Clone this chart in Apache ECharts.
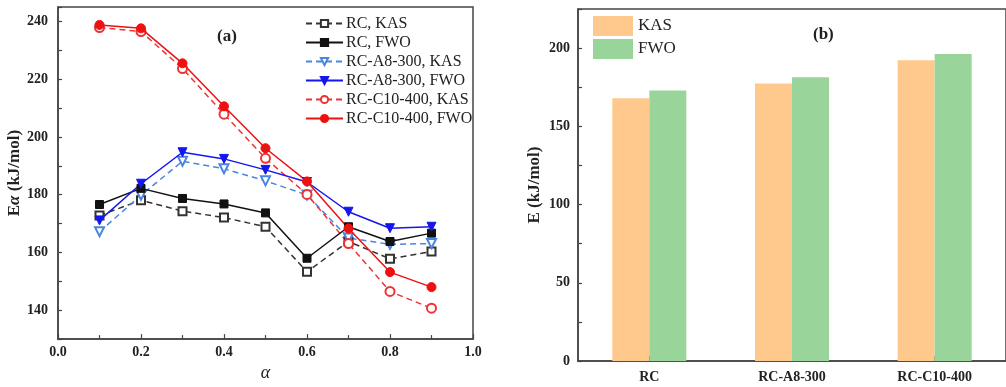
<!DOCTYPE html>
<html>
<head>
<meta charset="utf-8">
<script src="https://cdn.jsdelivr.net/npm/echarts@6/dist/echarts.min.js"></script>
<style>html,body{margin:0;padding:0;background:#fff}#c{width:1006px;height:387px}</style>
</head>
<body>
<div id="c"></div>
<script>
const alphas = [0.1, 0.2, 0.3, 0.4, 0.5, 0.6, 0.7, 0.8, 0.9];
const rcKAS = [172.8, 178.1, 174.3, 172.1, 168.9, 153.3, 163.8, 157.8, 160.3];
const rcFWO = [176.6, 182.2, 178.7, 176.8, 173.7, 158.0, 168.9, 163.8, 166.7];
const a8KAS = [167.2, 179.8, 191.6, 189.0, 184.8, 179.9, 165.0, 162.8, 163.1];
const a8FWO = [171.1, 183.8, 194.7, 192.4, 188.6, 184.4, 174.1, 168.4, 168.9];
const c10KAS = [237.9, 236.5, 223.7, 207.9, 192.6, 180.1, 163.1, 146.5, 140.7];
const c10FWO = [238.8, 237.6, 225.5, 210.6, 196.1, 184.6, 168.3, 153.2, 148.0];
const samples = ['RC', 'RC-A8-300', 'RC-C10-400'];
const barKAS = [167.9, 177.3, 192.3];
const barFWO = [172.9, 181.3, 196.3];

const FONT = '"Liberation Serif","Times New Roman",serif';
const pts = arr => alphas.map((a, i) => [a, arr[i]]);

function lineSeries(name, data, color, dashed, symbol, rotate, size) {
  return {
    name: name, type: 'line', xAxisIndex: 0, yAxisIndex: 0,
    data: pts(data),
    symbol: symbol, symbolSize: size, symbolRotate: rotate || 0,
    showAllSymbol: true,
    lineStyle: { color: color, width: 1.5, type: dashed ? [6, 4] : 'solid' },
    itemStyle: { color: color, borderColor: color, borderWidth: 1 },
    emphasis: { disabled: true },
    z: dashed ? 2 : 3
  };
}

const chart = echarts.init(document.getElementById('c'), null, { renderer: 'canvas' });
chart.setOption({
  animation: false,
  backgroundColor: '#fff',
  textStyle: { fontFamily: FONT },
  grid: [
    { left: 58, top: 7, right: 533, bottom: 46, show: true, borderColor: '#444', borderWidth: 1.5, backgroundColor: 'transparent' },
    { left: 578, top: 9, width: 437, bottom: 26, show: true, borderColor: '#444', borderWidth: 1.5, backgroundColor: 'transparent' }
  ],
  legend: [
    {
      left: 305, top: 14, padding: 0, orient: 'vertical', itemWidth: 37, itemHeight: 9, itemGap: 0,
      textStyle: { fontFamily: FONT, fontSize: 16, color: '#222', lineHeight: 19, padding: [0, 0, 0, -2] },
      data: ['RC, KAS', 'RC, FWO', 'RC-A8-300, KAS', 'RC-A8-300, FWO', 'RC-C10-400, KAS', 'RC-C10-400, FWO']
    },
    {
      left: 593, top: 16, padding: 0, orient: 'vertical', itemWidth: 40, itemHeight: 20, itemGap: 3,
      textStyle: { fontFamily: FONT, fontSize: 17, color: '#222' },
      data: [{ name: 'KAS', icon: 'rect' }, { name: 'FWO', icon: 'rect' }]
    }
  ],
  xAxis: [
    {
      gridIndex: 0, type: 'value', min: 0, max: 1, interval: 0.2,
      name: 'α', nameLocation: 'middle', nameGap: 24,
      nameTextStyle: { fontFamily: FONT, fontSize: 18, fontStyle: 'italic', color: '#222' },
      axisLine: { show: true, lineStyle: { color: '#444', width: 1.5 } },
      axisTick: { show: true, inside: true, length: 5, lineStyle: { color: '#444', width: 1.2 } },
      minorTick: { show: true, splitNumber: 2, length: 4, lineStyle: { color: '#444', width: 1.2 } },
      splitLine: { show: false },
      axisLabel: { fontFamily: FONT, fontSize: 14, fontWeight: 'bold', color: '#222', margin: 6, formatter: v => v.toFixed(1) }
    },
    {
      gridIndex: 1, type: 'category', data: samples,
      axisLine: { show: true, lineStyle: { color: '#444', width: 1.5 } },
      axisTick: { show: true, inside: true, alignWithLabel: true, length: 5, lineStyle: { color: '#444', width: 1.2 } },
      axisLabel: { fontFamily: FONT, fontSize: 14, fontWeight: 'bold', color: '#222', margin: 9 },
      splitLine: { show: false }
    }
  ],
  yAxis: [
    {
      gridIndex: 0, type: 'value', min: 130, max: 245, interval: 10,
      name: '{b|E}{i|α}{b| (kJ/mol)}', nameLocation: 'middle', nameGap: 31,
      nameTextStyle: {
        rich: {
          b: { fontFamily: FONT, fontSize: 17, fontWeight: 'bold', color: '#222' },
          i: { fontFamily: FONT, fontSize: 17, fontWeight: 'bold', fontStyle: 'italic', color: '#222' }
        }
      },
      axisLine: { show: true, lineStyle: { color: '#444', width: 1.5 } },
      axisTick: { show: true, inside: true, length: 4, lineStyle: { color: '#444', width: 1.2 } },
      splitLine: { show: false },
      axisLabel: {
        fontFamily: FONT, fontSize: 14, fontWeight: 'bold', color: '#222', margin: 10,
        formatter: v => (v % 20 === 0 && v >= 140 && v <= 240) ? String(v) : ''
      }
    },
    {
      gridIndex: 1, type: 'value', min: 0, max: 225, interval: 25,
      name: 'E (kJ/mol)', nameLocation: 'middle', nameGap: 35,
      nameTextStyle: { fontFamily: FONT, fontSize: 17, fontWeight: 'bold', color: '#222' },
      axisLine: { show: true, lineStyle: { color: '#444', width: 1.5 } },
      axisTick: { show: true, inside: true, length: 4, lineStyle: { color: '#444', width: 1.2 } },
      splitLine: { show: false },
      axisLabel: {
        fontFamily: FONT, fontSize: 14, fontWeight: 'bold', color: '#222', margin: 8,
        formatter: v => (v % 50 === 0 && v <= 200) ? String(v) : ''
      }
    }
  ],
  graphic: [
    { type: 'text', left: 217, top: 28, style: { text: '(a)', fontFamily: FONT, fontSize: 17, fontWeight: 'bold', fill: '#222' } },
    { type: 'text', left: 813, top: 26, style: { text: '(b)', fontFamily: FONT, fontSize: 17, fontWeight: 'bold', fill: '#222' } }
  ],
  series: [
    lineSeries('RC, KAS', rcKAS, '#333333', true, 'emptyRect', 0, 8),
    lineSeries('RC, FWO', rcFWO, '#111111', false, 'rect', 0, 8),
    lineSeries('RC-A8-300, KAS', a8KAS, '#4a86e0', true, 'emptyTriangle', 180, 9),
    lineSeries('RC-A8-300, FWO', a8FWO, '#1515ee', false, 'triangle', 180, 9),
    lineSeries('RC-C10-400, KAS', c10KAS, '#ee3333', true, 'emptyCircle', 0, 9),
    lineSeries('RC-C10-400, FWO', c10FWO, '#ee1111', false, 'circle', 0, 9),
    {
      name: 'KAS', type: 'bar', xAxisIndex: 1, yAxisIndex: 1, data: barKAS,
      barWidth: 37, barGap: '0%', itemStyle: { color: '#ffc98e' }, emphasis: { disabled: true }
    },
    {
      name: 'FWO', type: 'bar', xAxisIndex: 1, yAxisIndex: 1, data: barFWO,
      barWidth: 37, barGap: '0%', itemStyle: { color: '#99d59a' }, emphasis: { disabled: true }
    }
  ]
});
</script>
</body>
</html>
